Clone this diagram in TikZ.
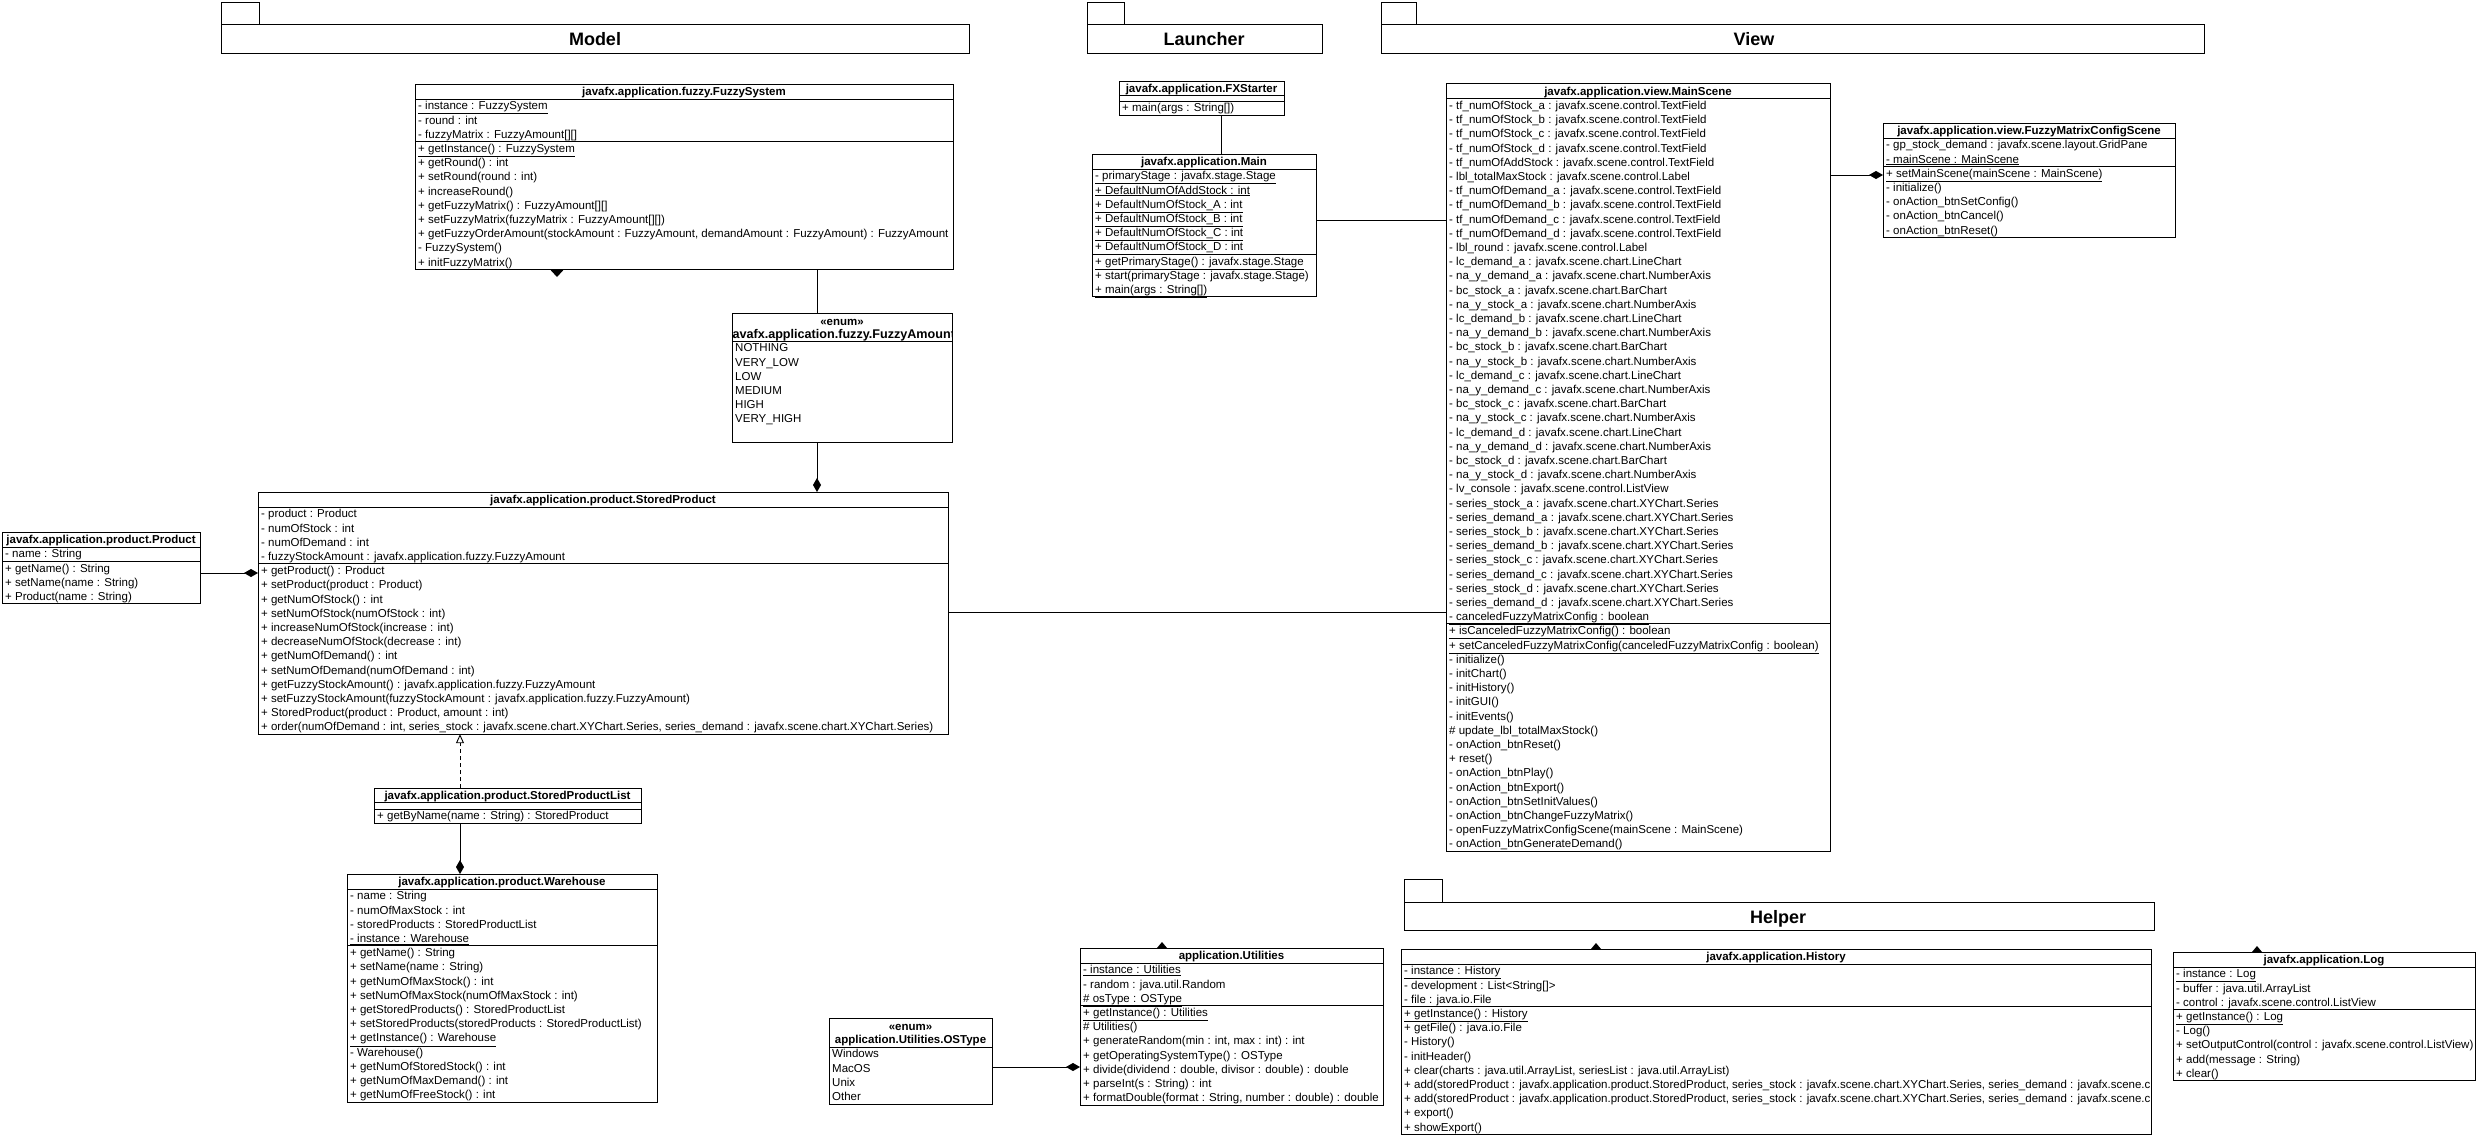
\documentclass[tikz,border=0pt]{standalone}
\usepackage{fontspec}
\setmainfont{Liberation Sans}
\usetikzlibrary{arrows.meta}
\newcommand\rowfont{\fontsize{11.5}{14.2}\selectfont}
\newcommand\hdrfont{\bfseries\fontsize{11.5}{14.2}\selectfont}
\newcommand\pkgfont{\bfseries\fontsize{18}{20}\selectfont}
\tikzset{
  cls/.style={draw, line width=0.9pt, fill=white, inner sep=0pt, outer sep=0pt, anchor=north west},
  row/.style={anchor=base west, inner sep=0pt, font=\rowfont},
  hdr/.style={anchor=base, inner sep=0pt, font=\hdrfont},
  pkglabel/.style={anchor=base, inner sep=0pt, font=\pkgfont},
  sepline/.style={line width=0.9pt},
  conn/.style={line width=0.9pt},
  comp/.style={conn, -{Diamond[length=14pt,width=8pt]}},
  dep/.style={conn, dash pattern=on 4pt off 3pt, -{Triangle[open,length=9pt,width=8pt]}},
}
\newcommand\umlbox[5]{\node[cls, minimum width={(#4)-(#2)}, minimum height={(#5)-(#3)}] (#1) at (#2,#3) {};}
\newcommand\rows[4]{\foreach \txt [count=\i] in {#4} {\node[row] (#1\i) at (#2,{#3+\i*14.2-3.3}) {\txt};}}
\newcommand\hsep[3]{\draw[sepline] (#1,#3) -- (#2,#3);}
\newcommand\lonediamond[2]{\fill (#1,{#2-6}) -- ({#1+5},#2) -- (#1,{#2+6}) -- ({#1-5},#2) -- cycle;}
\begin{document}
\begin{tikzpicture}[x=1pt,y=-1pt]
\fill[white] (0,0) rectangle (2481,1135);
\useasboundingbox (0,0) rectangle (2481,1135);

% ---------- packages ----------
\node[cls, minimum width=38pt, minimum height=22pt] (pkMtab) at (221,2) {};
\node[cls, minimum width=748pt, minimum height=29pt] (pkM) at (221,24) {};
\node[pkglabel] (pkMl) at (595,45) {Model};
\node[cls, minimum width=37pt, minimum height=22pt] (pkLtab) at (1087,2) {};
\node[cls, minimum width=235pt, minimum height=29pt] (pkL) at (1087,24) {};
\node[pkglabel] (pkLl) at (1204,45) {Launcher};
\node[cls, minimum width=35pt, minimum height=22pt] (pkVtab) at (1381,2) {};
\node[cls, minimum width=823pt, minimum height=29pt] (pkV) at (1381,24) {};
\node[pkglabel] (pkVl) at (1754,45) {View};
\node[cls, minimum width=38pt, minimum height=23pt] (pkHtab) at (1404,879) {};
\node[cls, minimum width=750pt, minimum height=28pt] (pkH) at (1404,902) {};
\node[pkglabel] (pkHl) at (1778,923) {Helper};

% ---------- lone diamonds (half hidden by boxes) ----------
\fill (557,262) -- (564,269.4) -- (557,277) -- (550,269.4) -- cycle;
\lonediamond{1162}{948}
\lonediamond{1596}{949}
\lonediamond{2257}{952}

% ---------- FuzzySystem ----------
\umlbox{fs}{415}{84}{953}{269.4}
\node[hdr] (fsH) at (684,95.5) {javafx.application.fuzzy.FuzzySystem};
\hsep{415}{953}{99}
\rows{fsA}{418}{99}{{\underline{- instance : FuzzySystem}},{- round : int},{- fuzzyMatrix : FuzzyAmount[][]}}
\hsep{415}{953}{141.6}
\rows{fsM}{418}{141.6}{{\underline{+ getInstance() : FuzzySystem}},{+ getRound() : int},{+ setRound(round : int)},{+ increaseRound()},{+ getFuzzyMatrix() : FuzzyAmount[][]},{+ setFuzzyMatrix(fuzzyMatrix : FuzzyAmount[][])},{+ getFuzzyOrderAmount(stockAmount : FuzzyAmount, demandAmount : FuzzyAmount) : FuzzyAmount},{- FuzzySystem()},{+ initFuzzyMatrix()}}

% ---------- FuzzyAmount ----------
\umlbox{fa}{732}{313}{952}{442}
\begin{scope}
\clip (732,313) rectangle (952,442);
\node[hdr] (faS) at (842,325) {«enum»};
\node[hdr, font=\bfseries\fontsize{12.6}{14.2}\selectfont] (faH) at (842,338) {javafx.application.fuzzy.FuzzyAmount};
\end{scope}
\hsep{732}{952}{341}
\rows{faI}{735}{341}{{NOTHING},{VERY\_LOW},{LOW},{MEDIUM},{HIGH},{VERY\_HIGH}}

% ---------- StoredProduct ----------
\umlbox{sp}{258}{492}{948}{734.2}
\node[hdr] (spH) at (603,503.5) {javafx.application.product.StoredProduct};
\hsep{258}{948}{507}
\rows{spA}{261}{507}{{- product : Product},{- numOfStock : int},{- numOfDemand : int},{- fuzzyStockAmount : javafx.application.fuzzy.FuzzyAmount}}
\hsep{258}{948}{563.8}
\rows{spM}{261}{563.8}{{+ getProduct() : Product},{+ setProduct(product : Product)},{+ getNumOfStock() : int},{+ setNumOfStock(numOfStock : int)},{+ increaseNumOfStock(increase : int)},{+ decreaseNumOfStock(decrease : int)},{+ getNumOfDemand() : int},{+ setNumOfDemand(numOfDemand : int)},{+ getFuzzyStockAmount() : javafx.application.fuzzy.FuzzyAmount},{+ setFuzzyStockAmount(fuzzyStockAmount : javafx.application.fuzzy.FuzzyAmount)},{+ StoredProduct(product : Product, amount : int)},{+ order(numOfDemand : int, series\_stock : javafx.scene.chart.XYChart.Series, series\_demand : javafx.scene.chart.XYChart.Series)}}

% ---------- Product ----------
\umlbox{pr}{2}{532}{200}{603.8}
\node[hdr] (prH) at (101,543.5) {javafx.application.product.Product};
\hsep{2}{200}{547}
\rows{prA}{5}{547}{{- name : String}}
\hsep{2}{200}{561.2}
\rows{prM}{5}{561.2}{{+ getName() : String},{+ setName(name : String)},{+ Product(name : String)}}

% ---------- StoredProductList ----------
\umlbox{spl}{374}{788}{641}{823.2}
\node[hdr] (splH) at (507.5,799) {javafx.application.product.StoredProductList};
\hsep{374}{641}{802}
\hsep{374}{641}{809}
\rows{splM}{377}{809}{{+ getByName(name : String) : StoredProduct}}

% ---------- Warehouse ----------
\umlbox{wh}{347}{874}{657}{1102}
\node[hdr] (whH) at (502,885.5) {javafx.application.product.Warehouse};
\hsep{347}{657}{889}
\rows{whA}{350}{889}{{- name : String},{- numOfMaxStock : int},{- storedProducts : StoredProductList},{\underline{- instance : Warehouse}}}
\hsep{347}{657}{945.8}
\rows{whM}{350}{945.8}{{+ getName() : String},{+ setName(name : String)},{+ getNumOfMaxStock() : int},{+ setNumOfMaxStock(numOfMaxStock : int)},{+ getStoredProducts() : StoredProductList},{+ setStoredProducts(storedProducts : StoredProductList)},{\underline{+ getInstance() : Warehouse}},{- Warehouse()},{+ getNumOfStoredStock() : int},{+ getNumOfMaxDemand() : int},{+ getNumOfFreeStock() : int}}

% ---------- FXStarter ----------
\umlbox{fx}{1119}{81}{1284}{115}
\node[hdr] (fxH) at (1201.5,92) {javafx.application.FXStarter};
\hsep{1119}{1284}{95}
\hsep{1119}{1284}{101}
\rows{fxM}{1122}{101}{{\underline{+ main(args : String[])}}}

% ---------- Main ----------
\umlbox{mn}{1092}{154}{1316}{296.8}
\node[hdr] (mnH) at (1204,165.5) {javafx.application.Main};
\hsep{1092}{1316}{169}
\rows{mnA}{1095}{169}{{\underline{- primaryStage : javafx.stage.Stage}},{\underline{+ DefaultNumOfAddStock : int}},{\underline{+ DefaultNumOfStock\_A : int}},{\underline{+ DefaultNumOfStock\_B : int}},{\underline{+ DefaultNumOfStock\_C : int}},{\underline{+ DefaultNumOfStock\_D : int}}}
\hsep{1092}{1316}{254.2}
\rows{mnM}{1095}{254.2}{{\underline{+ getPrimaryStage() : javafx.stage.Stage}},{+ start(primaryStage : javafx.stage.Stage)},{\underline{+ main(args : String[])}}}

% ---------- MainScene ----------
\umlbox{ms}{1446}{83}{1830}{851.1}
\node[hdr] (msH) at (1638,95) {javafx.application.view.MainScene};
\hsep{1446}{1830}{98.5}
\rows{msA}{1449}{98.5}{{- tf\_numOfStock\_a : javafx.scene.control.TextField},{- tf\_numOfStock\_b : javafx.scene.control.TextField},{- tf\_numOfStock\_c : javafx.scene.control.TextField},{- tf\_numOfStock\_d : javafx.scene.control.TextField},{- tf\_numOfAddStock : javafx.scene.control.TextField},{- lbl\_totalMaxStock : javafx.scene.control.Label},{- tf\_numOfDemand\_a : javafx.scene.control.TextField},{- tf\_numOfDemand\_b : javafx.scene.control.TextField},{- tf\_numOfDemand\_c : javafx.scene.control.TextField},{- tf\_numOfDemand\_d : javafx.scene.control.TextField},{- lbl\_round : javafx.scene.control.Label},{- lc\_demand\_a : javafx.scene.chart.LineChart},{- na\_y\_demand\_a : javafx.scene.chart.NumberAxis},{- bc\_stock\_a : javafx.scene.chart.BarChart},{- na\_y\_stock\_a : javafx.scene.chart.NumberAxis},{- lc\_demand\_b : javafx.scene.chart.LineChart},{- na\_y\_demand\_b : javafx.scene.chart.NumberAxis},{- bc\_stock\_b : javafx.scene.chart.BarChart},{- na\_y\_stock\_b : javafx.scene.chart.NumberAxis},{- lc\_demand\_c : javafx.scene.chart.LineChart},{- na\_y\_demand\_c : javafx.scene.chart.NumberAxis},{- bc\_stock\_c : javafx.scene.chart.BarChart},{- na\_y\_stock\_c : javafx.scene.chart.NumberAxis},{- lc\_demand\_d : javafx.scene.chart.LineChart},{- na\_y\_demand\_d : javafx.scene.chart.NumberAxis},{- bc\_stock\_d : javafx.scene.chart.BarChart},{- na\_y\_stock\_d : javafx.scene.chart.NumberAxis},{- lv\_console : javafx.scene.control.ListView},{- series\_stock\_a : javafx.scene.chart.XYChart.Series},{- series\_demand\_a : javafx.scene.chart.XYChart.Series},{- series\_stock\_b : javafx.scene.chart.XYChart.Series},{- series\_demand\_b : javafx.scene.chart.XYChart.Series},{- series\_stock\_c : javafx.scene.chart.XYChart.Series},{- series\_demand\_c : javafx.scene.chart.XYChart.Series},{- series\_stock\_d : javafx.scene.chart.XYChart.Series},{- series\_demand\_d : javafx.scene.chart.XYChart.Series},{\underline{- canceledFuzzyMatrixConfig : boolean}}}
\hsep{1446}{1830}{623.9}
\rows{msM}{1449}{623.9}{{\underline{+ isCanceledFuzzyMatrixConfig() : boolean}},{\underline{+ setCanceledFuzzyMatrixConfig(canceledFuzzyMatrixConfig : boolean)}},{- initialize()},{- initChart()},{- initHistory()},{- initGUI()},{- initEvents()},{\# update\_lbl\_totalMaxStock()},{- onAction\_btnReset()},{+ reset()},{- onAction\_btnPlay()},{- onAction\_btnExport()},{- onAction\_btnSetInitValues()},{- onAction\_btnChangeFuzzyMatrix()},{- openFuzzyMatrixConfigScene(mainScene : MainScene)},{- onAction\_btnGenerateDemand()}}

% ---------- FuzzyMatrixConfigScene ----------
\umlbox{fm}{1883}{123}{2175}{237.4}
\node[hdr] (fmH) at (2029,134.5) {javafx.application.view.FuzzyMatrixConfigScene};
\hsep{1883}{2175}{138}
\rows{fmA}{1886}{138}{{- gp\_stock\_demand : javafx.scene.layout.GridPane},{\underline{- mainScene : MainScene}}}
\hsep{1883}{2175}{166.4}
\rows{fmM}{1886}{166.4}{{\underline{+ setMainScene(mainScene : MainScene)}},{- initialize()},{- onAction\_btnSetConfig()},{- onAction\_btnCancel()},{- onAction\_btnReset()}}

% ---------- OSType ----------
\umlbox{os}{829}{1018}{992}{1104}
\node[hdr] (osS) at (910.5,1030) {«enum»};
\node[hdr] (osH) at (910.5,1043) {application.Utilities.OSType};
\hsep{829}{992}{1047}
\rows{osI}{832}{1047}{{Windows},{MacOS},{Unix},{Other}}

% ---------- Utilities ----------
\umlbox{ut}{1080}{948}{1383}{1105}
\node[hdr] (utH) at (1231.5,959.5) {application.Utilities};
\hsep{1080}{1383}{963}
\rows{utA}{1083}{963}{{\underline{- instance : Utilities}},{- random : java.util.Random},{\underline{\# osType : OSType}}}
\hsep{1080}{1383}{1005.6}
\rows{utM}{1083}{1005.6}{{\underline{+ getInstance() : Utilities}},{\# Utilities()},{+ generateRandom(min : int, max : int) : int},{+ getOperatingSystemType() : OSType},{+ divide(dividend : double, divisor : double) : double},{+ parseInt(s : String) : int},{+ formatDouble(format : String, number : double) : double}}

% ---------- History ----------
\umlbox{hi}{1401}{949}{2151}{1134}
\node[hdr] (hiH) at (1776,960.5) {javafx.application.History};
\hsep{1401}{2151}{964}
\begin{scope}
\clip (1401,949) rectangle (2150,1134);
\rows{hiA}{1404}{964}{{\underline{- instance : History}},{- development : List<String[]>},{- file : java.io.File}}
\rows{hiM}{1404}{1006.6}{{\underline{+ getInstance() : History}},{+ getFile() : java.io.File},{- History()},{- initHeader()},{+ clear(charts : java.util.ArrayList, seriesList : java.util.ArrayList)},{+ add(storedProduct : javafx.application.product.StoredProduct, series\_stock : javafx.scene.chart.XYChart.Series, series\_demand : javafx.scene.chart.XYChart.Series)},{+ add(storedProduct : javafx.application.product.StoredProduct, series\_stock : javafx.scene.chart.XYChart.Series, series\_demand : javafx.scene.chart.XYChart.Series)},{+ export()},{+ showExport()}}
\end{scope}
\hsep{1401}{2151}{1006.6}

% ---------- Log ----------
\umlbox{lg}{2173}{952}{2475}{1080.6}
\node[hdr] (lgH) at (2324,963.5) {javafx.application.Log};
\hsep{2173}{2475}{967}
\rows{lgA}{2176}{967}{{\underline{- instance : Log}},{- buffer : java.util.ArrayList},{- control : javafx.scene.control.ListView}}
\hsep{2173}{2475}{1009.6}
\rows{lgM}{2176}{1009.6}{{\underline{+ getInstance() : Log}},{- Log()},{+ setOutputControl(control : javafx.scene.control.ListView)},{+ add(message : String)},{+ clear()}}

% ---------- connectors ----------
\coordinate (cFA) at (817,0);
\coordinate (cPR) at (0,573);
\coordinate (cSP) at (0,612);
\coordinate (cSPL) at (460,0);
\coordinate (cFX) at (1221,0);
\coordinate (cMN) at (0,220);
\coordinate (cFM) at (0,175);
\coordinate (cOS) at (0,1067);
\draw[conn] (fs.south -| cFA) -- (fa.north -| cFA);
\draw[comp] (fa.south -| cFA) -- (sp.north -| cFA);
\draw[comp] (pr.east |- cPR) -- (sp.west |- cPR);
\draw[conn] (sp.east |- cSP) -- (ms.west |- cSP);
\draw[dep] (spl.north -| cSPL) -- (sp.south -| cSPL);
\draw[comp] (spl.south -| cSPL) -- (wh.north -| cSPL);
\draw[conn] (fx.south -| cFX) -- (mn.north -| cFX);
\draw[conn] (mn.east |- cMN) -- (ms.west |- cMN);
\draw[comp] (ms.east |- cFM) -- (fm.west |- cFM);
\draw[comp] (os.east |- cOS) -- (ut.west |- cOS);
\end{tikzpicture}
\end{document}
